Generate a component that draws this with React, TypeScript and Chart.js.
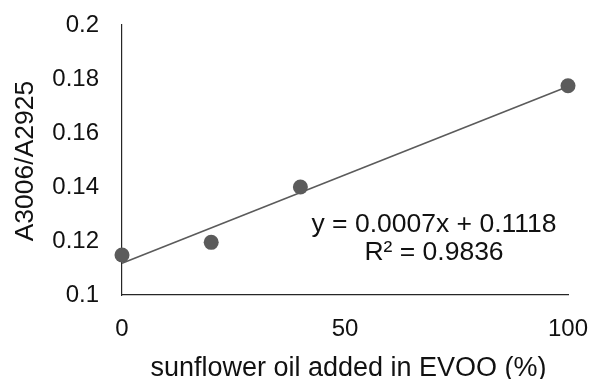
import { useEffect, useRef } from "react";
import { Chart, registerables } from "chart.js";

Chart.register(...registerables);

// Sunflower oil share in EVOO (%) and measured absorbance ratio
const oilAdded = [0, 20, 40, 100];
const absorbanceRatio = [0.1148, 0.1195, 0.14, 0.1775];

const yTicks = [0.1, 0.12, 0.14, 0.16, 0.18, 0.2];
const xTicks = [0, 50, 100];

const equationText = "y = 0.0007x + 0.1118";
const rSquaredText = "R² = 0.9836";
const xTitle = "sunflower oil added in EVOO (%)";
const yTitle = "A3006/A2925";

const FONT = "'Liberation Sans', Arial, sans-serif";
const TEXT_COLOR = "#111111";
const MARK_COLOR = "#5b5b5b";
const AXIS_COLOR = "#262626";

function linearFit(xs: number[], ys: number[]) {
  const n = xs.length;
  const mx = xs.reduce((a, b) => a + b, 0) / n;
  const my = ys.reduce((a, b) => a + b, 0) / n;
  let sxy = 0;
  let sxx = 0;
  for (let i = 0; i < n; i++) {
    sxy += (xs[i] - mx) * (ys[i] - my);
    sxx += (xs[i] - mx) * (xs[i] - mx);
  }
  const slope = sxy / sxx;
  return { slope, intercept: my - slope * mx };
}

// Drop the extra edge padding Chart.js reserves for the outer tick labels
function noEdgePadding(s: any) {
  s.paddingTop = 0;
  s.paddingBottom = 0;
  s.paddingLeft = 0;
  s.paddingRight = 0;
}

// Axis titles and the trendline equation
const annotations = {
  id: "annotations",
  afterDraw(chart: Chart) {
    const { ctx, chartArea } = chart;
    ctx.save();
    ctx.fillStyle = TEXT_COLOR;

    ctx.font = `26.5px ${FONT}`;
    ctx.textAlign = "center";
    ctx.textBaseline = "alphabetic";
    ctx.fillText(equationText, chartArea.left + 312, 232);
    ctx.fillText(rSquaredText, chartArea.left + 312, 260);

    ctx.font = `27px ${FONT}`;
    ctx.fillText(xTitle, 348.5, 376);

    ctx.translate(33, (chartArea.top + chartArea.bottom) / 2 + 1);
    ctx.rotate(-Math.PI / 2);
    ctx.font = `26.5px ${FONT}`;
    ctx.fillText(yTitle, 0, 0);
    ctx.restore();
  },
};

export default function App() {
  const canvasRef = useRef<HTMLCanvasElement | null>(null);

  useEffect(() => {
    const canvas = canvasRef.current;
    if (!canvas) return;
    const fit = linearFit(oilAdded, absorbanceRatio);
    const xMin = xTicks[0];
    const xMax = xTicks[xTicks.length - 1];

    const chart = new Chart(canvas, {
      type: "scatter",
      data: {
        datasets: [
          {
            type: "line",
            label: "trend",
            data: [
              { x: xMin, y: fit.intercept + fit.slope * xMin },
              { x: xMax, y: fit.intercept + fit.slope * xMax },
            ],
            borderColor: MARK_COLOR,
            borderWidth: 1.6,
            pointRadius: 0,
            fill: false,
            clip: false,
            order: 0,
          },
          {
            label: "A3006/A2925",
            data: oilAdded.map((x, i) => ({ x, y: absorbanceRatio[i] })),
            backgroundColor: MARK_COLOR,
            borderColor: MARK_COLOR,
            pointRadius: 7.5,
            borderWidth: 0,
            clip: false,
            order: 1,
          },
        ],
      },
      options: {
        responsive: false,
        animation: false,
        devicePixelRatio: 1,
        layout: { padding: { top: 25, right: 27, left: 0, bottom: 0 } },
        plugins: {
          legend: { display: false },
          tooltip: { enabled: false },
        },
        scales: {
          x: {
            type: "linear",
            min: xMin,
            max: xMax,
            afterBuildTicks: (s: any) => {
              s.ticks = xTicks.map((v) => ({ value: v }));
            },
            afterFit: (s: any) => {
              s.height = 84;
              noEdgePadding(s);
            },
            grid: { display: false, drawTicks: false, tickLength: 0 },
            border: { display: true, color: AXIS_COLOR, width: 1.2 },
            ticks: {
              color: TEXT_COLOR,
              font: { family: FONT, size: 24 },
              padding: 20,
              maxRotation: 0,
              callback: (v: any) => String(v),
            },
          },
          y: {
            type: "linear",
            min: yTicks[0],
            max: yTicks[yTicks.length - 1],
            afterBuildTicks: (s: any) => {
              s.ticks = yTicks.map((v) => ({ value: v }));
            },
            afterFit: (s: any) => {
              s.width = 122;
              noEdgePadding(s);
            },
            grid: { display: false, drawTicks: false, tickLength: 0 },
            border: { display: true, color: AXIS_COLOR, width: 1.2 },
            ticks: {
              color: TEXT_COLOR,
              font: { family: FONT, size: 24 },
              padding: 23,
              callback: (v: any) => String(Number(Number(v).toFixed(2))),
            },
          },
        },
      },
      plugins: [annotations],
    });

    return () => chart.destroy();
  }, []);

  return (
    <div style={{ position: "fixed", left: 0, top: 0, width: 595, height: 379, background: "#ffffff" }}>
      <canvas ref={canvasRef} width={595} height={379} style={{ display: "block" }} />
    </div>
  );
}
